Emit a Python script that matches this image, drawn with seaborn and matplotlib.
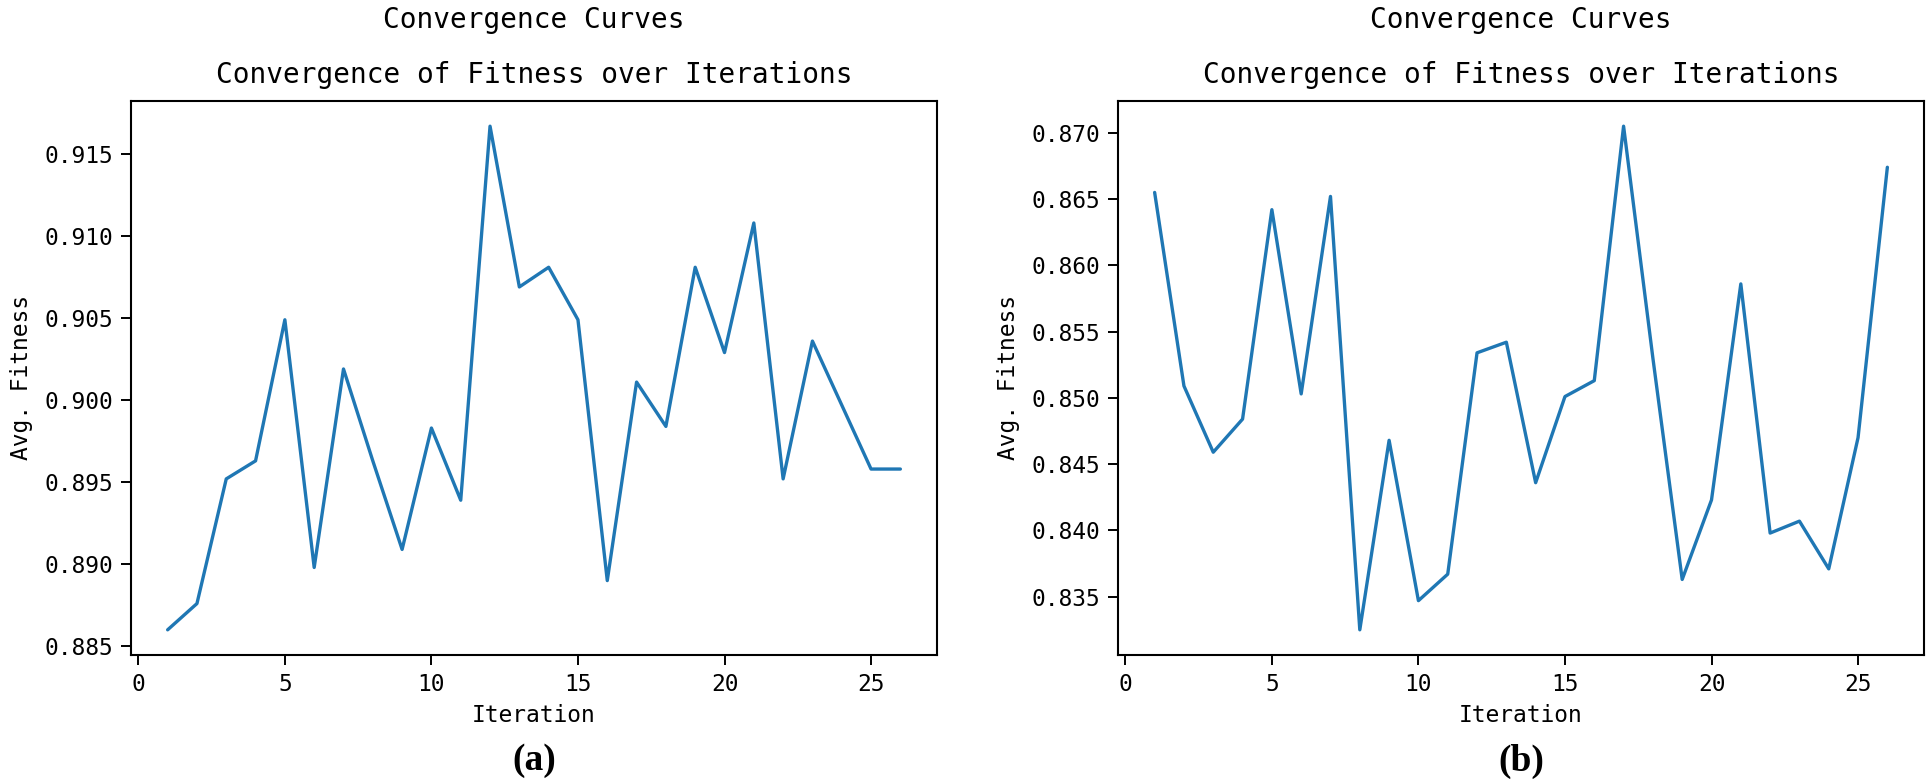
import matplotlib
matplotlib.use("Agg")
import matplotlib.pyplot as plt
import seaborn as sns
import pandas as pd

# ---- data ----
iterations = list(range(1, 27))
fitness_a = [0.8860, 0.8876, 0.8952, 0.8963, 0.9049, 0.8898, 0.9019, 0.8963, 0.8909, 0.8983,
             0.8939, 0.9167, 0.9069, 0.9081, 0.9049, 0.8890, 0.9011, 0.8984, 0.9081, 0.9029,
             0.9108, 0.8952, 0.9036, 0.8997, 0.8958, 0.8958]
fitness_b = [0.8655, 0.8509, 0.8459, 0.8484, 0.8642, 0.8503, 0.8652, 0.8325, 0.8468, 0.8347,
             0.8367, 0.8534, 0.8542, 0.8436, 0.8501, 0.8513, 0.8705, 0.8530, 0.8363, 0.8423,
             0.8586, 0.8398, 0.8407, 0.8371, 0.8470, 0.8674]
suptitle_text = "Convergence Curves"
title_text = "Convergence of Fitness over Iterations"
x_label = "Iteration"
y_label = "Avg. Fitness"
panel_labels = ["(a)", "(b)"]

sns.set_style("ticks")
mono = ["DejaVu Sans Mono", "DejaVu Sans"]
plt.rcParams["font.family"] = mono
plt.rcParams["text.color"] = "black"
plt.rcParams["axes.labelcolor"] = "black"
plt.rcParams["xtick.color"] = "black"
plt.rcParams["ytick.color"] = "black"
plt.rcParams["axes.edgecolor"] = "black"

W, H = 1930, 782
fig = plt.figure(figsize=(W / 100, H / 100), dpi=100)

panels = [
    (fitness_a, 131, 937),
    (fitness_b, 1118, 1924),
]
top_px, bottom_px = 101, 655

for (vals, x0, x1), lab in zip(panels, panel_labels):
    ax = fig.add_axes([x0 / W, 1 - bottom_px / H, (x1 - x0) / W, (bottom_px - top_px) / H])
    df = pd.DataFrame({"Iteration": iterations, "Fitness": vals})
    sns.lineplot(data=df, x="Iteration", y="Fitness", ax=ax, color="#1f77b4", linewidth=2.4)
    ax.set_xlabel(x_label, fontsize=16.5, labelpad=6)
    ax.set_ylabel(y_label, fontsize=16.5, labelpad=8)
    ax.tick_params(axis="both", labelsize=16.5, length=7, width=1.4, pad=6)
    ax.set_xticks([0, 5, 10, 15, 20, 25])
    ax.yaxis.set_major_formatter(matplotlib.ticker.FormatStrFormatter("%.3f"))
    for s in ax.spines.values():
        s.set_linewidth(1.5)
        s.set_visible(True)
    xc = (x0 + x1) / 2 / W
    fig.text(xc, 1 - 20 / H, suptitle_text, ha="center", va="center", fontsize=20)
    fig.text(xc, 1 - 75 / H, title_text, ha="center", va="center", fontsize=20)
    fig.text(xc, 1 - 761 / H, lab, ha="center", va="center", fontsize=27,
             fontweight="bold", family=["Liberation Serif", "DejaVu Serif"])

fig.savefig("out.png", dpi=100, facecolor="white")
